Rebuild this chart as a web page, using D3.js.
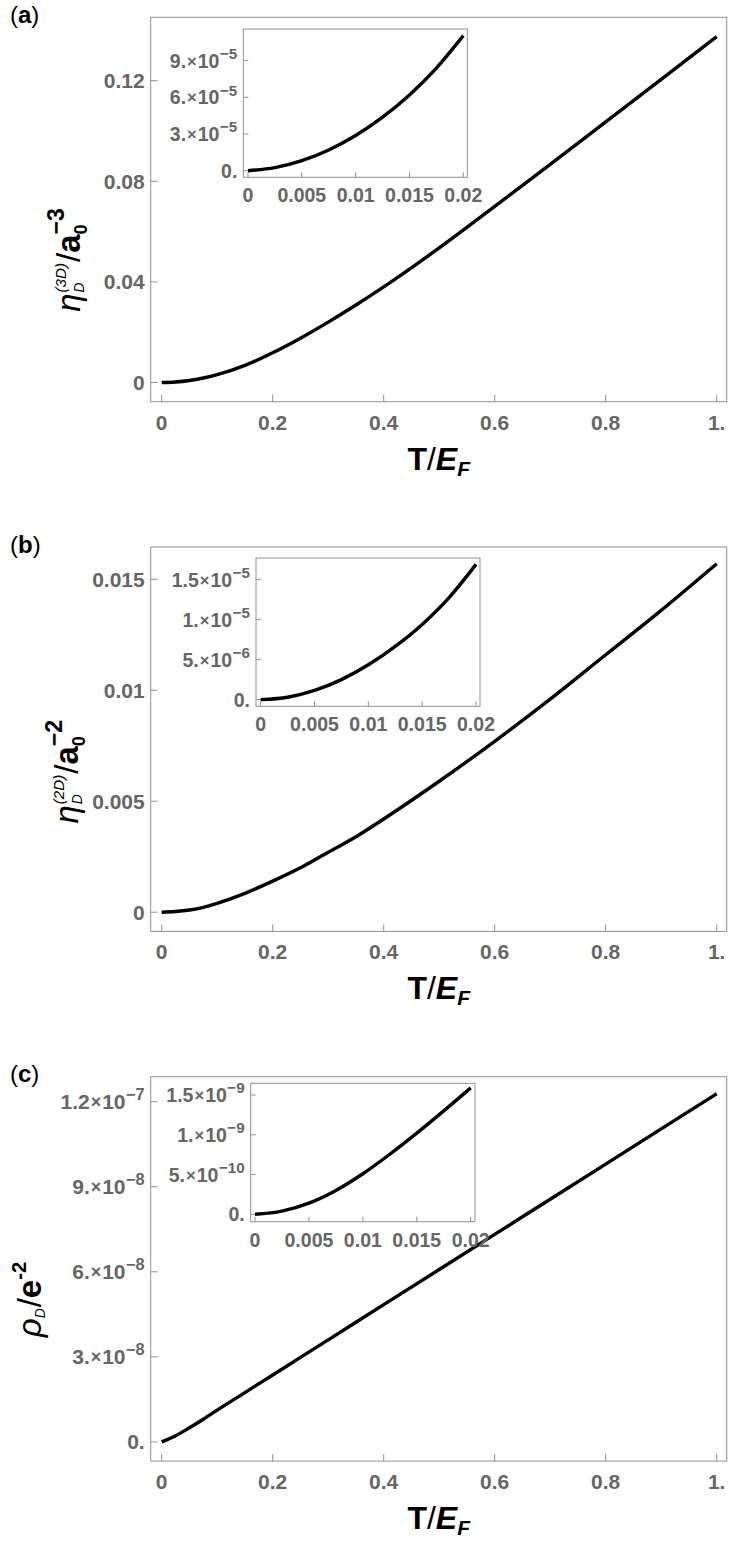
<!DOCTYPE html>
<html><head><meta charset="utf-8">
<script src="https://cdn.jsdelivr.net/npm/d3@7"></script>
<style>body{margin:0;background:#fff} text{font-family:"Liberation Sans",Arial,sans-serif}</style>
</head><body><svg id="c" width="746" height="1545"></svg>
<script>
// ---------- data ----------
const T_main = [0,0.025,0.05,0.075,0.1,0.15,0.2,0.25,0.3,0.35,0.4,0.5,0.6,0.7,0.8,0.9,1.0];
const eta3D = [0,0.0002,0.0008,0.0018,0.0031,0.0068,0.0118,0.0176,0.024,0.0308,0.038,0.0535,0.07,0.0867,0.1036,0.1205,0.1375];
const eta2D = [0,0.00003,0.0001,0.00022,0.0004,0.00085,0.0014,0.002,0.0027,0.0034,0.0042,0.0059,0.0077,0.0096,0.0116,0.0136,0.0157];
const rhoD  = [0,2.2e-9,5.0e-9,8.0e-9,1.12e-8,1.74e-8,2.36e-8,2.98e-8,3.6e-8,4.22e-8,4.84e-8,6.08e-8,7.32e-8,8.56e-8,9.8e-8,1.104e-7,1.228e-7];

const T_inset = [0,0.0025,0.005,0.0075,0.01,0.0125,0.015,0.0175,0.02];
const eta3D_inset = [0,0.25e-5,0.82e-5,1.70e-5,2.88e-5,4.38e-5,6.20e-5,8.40e-5,11.05e-5];
const eta2D_inset = [0,0.3e-6,1.15e-6,2.5e-6,4.35e-6,6.65e-6,9.4e-6,12.75e-6,16.9e-6];
const rhoD_inset  = [0,0.4e-10,1.4e-10,3.0e-10,5.1e-10,7.55e-10,10.2e-10,13.0e-10,15.9e-10];

const xTicksMain = [0,0.2,0.4,0.6,0.8,1];
const xTickLabelsMain = ["0","0.2","0.4","0.6","0.8","1."];
const xTicksInset = [0,0.005,0.01,0.015,0.02];
const xTickLabelsInset = ["0","0.005","0.01","0.015","0.02"];

const yTicksA = [0,0.04,0.08,0.12];
const yTickLabelsA = ["0","0.04","0.08","0.12"];
const yTicksB = [0,0.005,0.01,0.015];
const yTickLabelsB = ["0","0.005","0.01","0.015"];
const yTicksC = [0,3e-8,6e-8,9e-8,1.2e-7];
const yTickLabelsC = ["0.","3.×10^-8","6.×10^-8","9.×10^-8","1.2×10^-7"];

const yTicksAInset = [0,3e-5,6e-5,9e-5];
const yTickLabelsAInset = ["0.","3.×10^-5","6.×10^-5","9.×10^-5"];
const yTicksBInset = [0,5e-6,1e-5,1.5e-5];
const yTickLabelsBInset = ["0.","5.×10^-6","1.×10^-5","1.5×10^-5"];
const yTicksCInset = [0,5e-10,1e-9,1.5e-9];
const yTickLabelsCInset = ["0.","5.×10^-10","1.×10^-9","1.5×10^-9"];

const panelLetters = ["a","b","c"];

// ---------- layout ----------
const GRAY = "#666666", FRAME = "#929292";
const svg = d3.select("#c");
const pitch = 529.7;
const M = {left:150.7, right:726.7, top:17.3, bottom:401.7, x0:161.7, x1:716.7, y0:382.5};

const panels = [
  {letter:panelLetters[0], T:T_main, Y:eta3D, yTop:{v:0.12,p:80.7}, yt:yTicksA, ytl:yTickLabelsA, labX:80, labY:260,
   label:"a3", inset:{T:T_inset, Y:eta3D_inset, box:[243.3,467.3,29,177.3], x0:248, x1:463.3, y0:170.7, yTop:{v:9e-5,p:60.7}, yt:yTicksAInset, ytl:yTickLabelsAInset}},
  {letter:panelLetters[1], T:T_main, Y:eta2D, yTop:{v:0.015,p:49.6}, yt:yTicksB, ytl:yTickLabelsB, labX:78, labY:242,
   label:"a2", inset:{T:T_inset, Y:eta2D_inset, box:[256,480,28.3,176.6], x0:260.7, x1:476, y0:169.9, yTop:{v:1.5e-5,p:49.9}, yt:yTicksBInset, ytl:yTickLabelsBInset}},
  {letter:panelLetters[2], T:T_main, Y:rhoD, yTop:{v:1.2e-7,p:42.3}, yt:yTicksC, ytl:yTickLabelsC, labX:41, labY:240,
   label:"rho", inset:{T:T_inset, Y:rhoD_inset, box:[250.7,475,23.9,162.3], x0:255, x1:470.7, y0:154.9, yTop:{v:1.5e-9,p:35.6}, yt:yTicksCInset, ytl:yTickLabelsCInset}}
];

function rich(g, pieces, x, y, anchor, rotate) {
  const grp = g.append("g");
  const inner = grp.append("g");
  let cx = 0, prevStart = 0, prevW = 0;
  pieces.forEach(p => {
    const t = inner.append("text")
      .attr("font-size", p.fs)
      .attr("font-weight", p.fw || "bold")
      .attr("font-style", p.it ? "italic" : "normal")
      .attr("fill", p.fill || "#000")
      .attr("y", -(p.up || 0))
      .text(p.t);
    const w = t.node().getComputedTextLength();
    if (p.stack) {
      t.attr("x", prevStart);
      cx = Math.max(prevStart + prevW, prevStart + w);
      prevW = Math.max(prevW, w);
    } else {
      const start = cx + (p.dx || 0);
      t.attr("x", start);
      cx = start + w; prevStart = start; prevW = w;
    }
  });
  const off = anchor === "middle" ? -cx/2 : anchor === "end" ? -cx : 0;
  inner.attr("transform", `translate(${off},0)`);
  grp.attr("transform", `translate(${x},${y})` + (rotate ? ` rotate(${rotate})` : ""));
  return grp;
}

function tickPieces(lbl, fs) {
  const m = lbl.split("×10^");
  if (m.length === 1) return [{t:lbl, fs, fill:GRAY}];
  return [
    {t:m[0], fs, fill:GRAY},
    {t:"×", fs:fs*0.85, fill:GRAY, dx:1, up:1},
    {t:"10", fs, fill:GRAY, dx:1},
    {t:m[1].replace("-","−"), fs:fs*0.78, up:fs*0.45, fill:GRAY, dx:0.5}
  ];
}

function yLabelPieces(kind) {
  const fs = 33;
  if (kind === "rho") return [
    {t:"ρ", fs, fw:"normal", it:true},
    {t:"D", fs:fs*0.42, fw:"normal", it:true, up:-fs*0.12},
    {t:"/", fs, fw:"normal", dx:1},
    {t:"e", fs},
    {t:"-2", fs:fs*0.62, up:fs*0.45}
  ];
  const dim = kind === "a3" ? "3" : "2";
  const exp = kind === "a3" ? "−3" : "−2";
  return [
    {t:"η", fs, fw:"normal", it:true},
    {t:"("+dim+"D)", fs:fs*0.46, fw:"normal", it:true, up:fs*0.42, dx:1},
    {t:"D", fs:fs*0.42, fw:"normal", it:true, up:-fs*0.12, stack:true},
    {t:"/", fs, fw:"normal", dx:1},
    {t:"a", fs},
    {t:exp, fs:fs*0.7, up:fs*0.5},
    {t:"0", fs:fs*0.55, up:-fs*0.2, stack:true}
  ];
}

function drawAxesBox(g, box, xs, ys, xt, xtl, yt, ytl, fs, tickLen, xLabGap) {
  const [l, r, t, b] = box;
  g.append("rect").attr("x", l).attr("y", t).attr("width", r - l).attr("height", b - t)
    .attr("fill", "#fff").attr("stroke", FRAME).attr("stroke-width", 1);
  const tg = g.append("g");
  xt.forEach((v, i) => {
    tg.append("line").attr("x1", xs(v)).attr("x2", xs(v)).attr("y1", b).attr("y2", b - tickLen)
      .attr("stroke", FRAME).attr("stroke-width", 1);
    rich(g, tickPieces(xtl[i], fs), xs(v), b + xLabGap, "middle");
  });
  yt.forEach((v, i) => {
    tg.append("line").attr("x1", l).attr("x2", l + tickLen).attr("y1", ys(v)).attr("y2", ys(v))
      .attr("stroke", FRAME).attr("stroke-width", 1);
    rich(g, tickPieces(ytl[i], fs), l - 6, ys(v) + fs*0.36, "end");
  });
}

panels.forEach((P, k) => {
  const g = svg.append("g").attr("transform", `translate(0,${k*pitch})`);
  const xs = d3.scaleLinear().domain([0, 1]).range([M.x0, M.x1]);
  const ys = d3.scaleLinear().domain([0, P.yTop.v]).range([M.y0, P.yTop.p]);

  drawAxesBox(g, [M.left, M.right, M.top, M.bottom], xs, ys, xTicksMain, xTickLabelsMain,
              P.yt, P.ytl, 21, 7, 28);

  const line = d3.line().x((d,i) => xs(P.T[i])).y(d => ys(d)).curve(d3.curveMonotoneX);
  g.append("path").datum(P.Y).attr("d", line).attr("fill", "none")
    .attr("stroke", "#000").attr("stroke-width", 3.4);

  // inset
  const I = P.inset;
  const ixs = d3.scaleLinear().domain([0, 0.02]).range([I.x0, I.x1]);
  const iys = d3.scaleLinear().domain([0, I.yTop.v]).range([I.y0, I.yTop.p]);
  drawAxesBox(g, I.box, ixs, iys, xTicksInset, xTickLabelsInset, I.yt, I.ytl, 19.5, 5, 25);
  const iline = d3.line().x((d,i) => ixs(I.T[i])).y(d => iys(d)).curve(d3.curveMonotoneX);
  g.append("path").datum(I.Y).attr("d", iline).attr("fill", "none")
    .attr("stroke", "#000").attr("stroke-width", 3.4);

  // panel letter
  rich(g, [{t:"(", fs:24, fw:"normal"}, {t:P.letter, fs:24}, {t:")", fs:24, fw:"normal"}], 10, 23, "start");

  // x title
  rich(g, [{t:"T", fs:32}, {t:"/", fs:32, fw:"normal"}, {t:"E", fs:32, it:true}, {t:"F", fs:21, it:true, up:-6}],
       (M.left + M.right)/2, M.bottom + 68, "middle");

  // y title
  rich(g, yLabelPieces(P.label), P.labX, P.labY, "middle", -90);
});
</script></body></html>
